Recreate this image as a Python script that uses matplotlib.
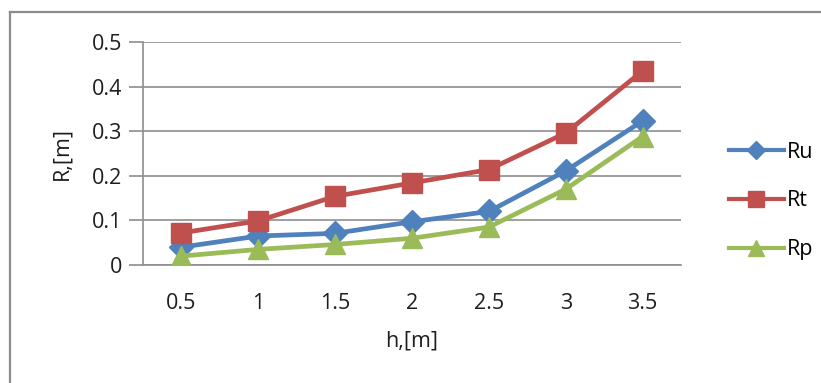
import matplotlib
matplotlib.use("Agg")
import matplotlib.pyplot as plt
from matplotlib.lines import Line2D

# Data
h_labels = ["0.5", "1", "1.5", "2", "2.5", "3", "3.5"]
Ru = [0.040, 0.065, 0.071, 0.097, 0.120, 0.211, 0.323]
Rt = [0.072, 0.099, 0.154, 0.184, 0.214, 0.296, 0.435]
Rp = [0.020, 0.035, 0.046, 0.060, 0.085, 0.170, 0.288]
y_ticks = [0, 0.1, 0.2, 0.3, 0.4, 0.5]
y_tick_labels = ["0", "0.1", "0.2", "0.3", "0.4", "0.5"]

plt.rcParams["font.family"] = ["Open Sans", "DejaVu Sans"]
FS = 15.5
TXT = "#1e1e1e"

W, H = 821, 383
fig = plt.figure(figsize=(W / 100, H / 100), dpi=100)

# outer chart frame (left and top edges visible)
frame_col = "#8c8c8c"
fig.add_artist(Line2D([10 / W, 10 / W], [0, 1 - 12 / H], color=frame_col, lw=1.6,
                      transform=fig.transFigure))
fig.add_artist(Line2D([10 / W, 1], [1 - 12 / H, 1 - 12 / H], color=frame_col, lw=1.6,
                      transform=fig.transFigure))

left, right, top, bottom = 143, 681, 42, 265
ax = fig.add_axes([left / W, 1 - bottom / H, (right - left) / W, (bottom - top) / H])

x = list(range(len(h_labels)))
grid_col = "#8e8e8e"

series = [
    ("Ru", Ru, "#4F81BD", "D", 12),
    ("Rt", Rt, "#C0504D", "s", 14),
    ("Rp", Rp, "#9BBB59", "^", 14),
]
for name, vals, col, mk, ms in series:
    ax.plot(x, vals, color=col, lw=3.4, marker=mk, markersize=ms,
            markerfacecolor=col, markeredgecolor=col, label=name, zorder=3,
            solid_joinstyle="round")

ax.set_xlim(-0.5, len(h_labels) - 0.5)
ax.set_ylim(0, 0.5)
ax.set_yticks(y_ticks)
ax.set_yticklabels(y_tick_labels)
ax.set_xticks(x)
ax.set_xticklabels(h_labels)

ax.grid(axis="y", color=grid_col, lw=1.2)
ax.set_axisbelow(True)
for s in ["top", "right"]:
    ax.spines[s].set_visible(False)
ax.spines["left"].set_color(grid_col)
ax.spines["left"].set_linewidth(1.2)
ax.spines["bottom"].set_color(grid_col)
ax.spines["bottom"].set_linewidth(1.2)

ax.tick_params(axis="y", length=10, color=grid_col, width=1.2, labelsize=FS,
               labelcolor=TXT, pad=5)
ax.tick_params(axis="x", length=0, labelsize=FS, labelcolor=TXT, pad=20)

ax.set_xlabel("h,[m]", fontsize=FS, color=TXT, labelpad=12)
ax.set_ylabel("R,[m]", fontsize=FS, color=TXT, labelpad=14)

leg = ax.legend(loc="center left", bbox_to_anchor=(718 / W, 1 - 201 / H),
                bbox_transform=fig.transFigure, frameon=False, borderpad=0,
                fontsize=FS, handlelength=2.55, handletextpad=0.15, labelspacing=1.3,
                markerscale=0.8)
for line in leg.get_lines():
    line.set_linewidth(3.0)

fig.savefig("out.png", dpi=100)
